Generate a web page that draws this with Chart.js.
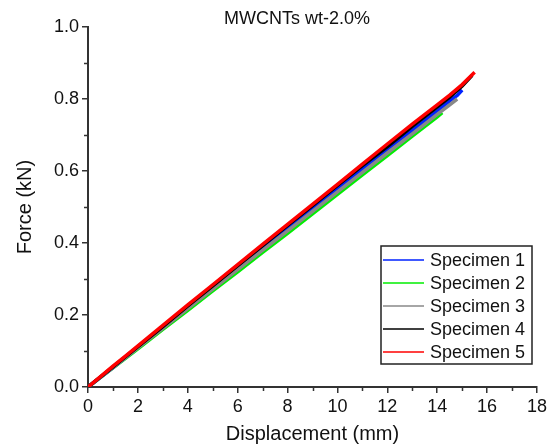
<!DOCTYPE html>
<html>
<head>
<meta charset="utf-8">
<script src="https://cdn.jsdelivr.net/npm/chart.js@4.4.1/dist/chart.umd.min.js"></script>
<style>
html, body { margin: 0; padding: 0; background: #fff; }
</style>
</head>
<body>
<canvas id="myChart" width="547" height="448"></canvas>
<script>
// ── données ──
const chartTitle = 'MWCNTs wt-2.0%';
const labels = ['Specimen 1', 'Specimen 2', 'Specimen 3', 'Specimen 4', 'Specimen 5'];
const colors = ['#0022ff', '#00ee00', '#888888', '#000000', '#ff0000'];

const disp1 = [0, 1, 2, 3, 4, 5, 6, 7, 8, 9, 10, 11, 12, 13, 14, 14.5, 14.8, 15.0];
const force1 = [0, 0.054, 0.110, 0.165, 0.221, 0.276, 0.331, 0.386, 0.441, 0.496, 0.551, 0.605, 0.660, 0.713, 0.767, 0.795, 0.810, 0.825];

const disp2 = [0, 1, 2, 3, 4, 5, 6, 7, 8, 9, 10, 11, 12, 13, 14, 14.2];
const force2 = [0, 0.053, 0.106, 0.160, 0.213, 0.267, 0.320, 0.374, 0.427, 0.481, 0.535, 0.589, 0.643, 0.697, 0.750, 0.762];

const disp3 = [0, 1, 2, 3, 4, 5, 6, 7, 8, 9, 10, 11, 12, 13, 14, 14.5, 14.8];
const force3 = [0, 0.054, 0.109, 0.163, 0.218, 0.272, 0.326, 0.380, 0.434, 0.488, 0.542, 0.596, 0.650, 0.703, 0.757, 0.784, 0.800];

const disp4 = [0, 1, 2, 3, 4, 5, 6, 7, 8, 9, 10, 11, 12, 13, 14, 14.5, 15, 15.4];
const force4 = [0, 0.056, 0.112, 0.168, 0.225, 0.281, 0.337, 0.393, 0.449, 0.504, 0.560, 0.615, 0.668, 0.724, 0.778, 0.805, 0.836, 0.866];

const disp5 = [0, 0.5, 1, 1.5, 2, 3, 4, 5, 6, 7, 8, 9, 10, 11, 12, 13, 14, 14.5, 15, 15.5];
const force5 = [0, 0.029, 0.058, 0.086, 0.114, 0.171, 0.228, 0.284, 0.340, 0.396, 0.452, 0.507, 0.563, 0.619, 0.675, 0.730, 0.784, 0.811, 0.840, 0.874];

const xMajor = [0, 2, 4, 6, 8, 10, 12, 14, 16, 18];
const xMinor = [1, 3, 5, 7, 9, 11, 13, 15, 17];
const yMajor = [0, 0.2, 0.4, 0.6, 0.8, 1.0];
const yMinor = [0.1, 0.3, 0.5, 0.7, 0.9];

const series = [[disp1, force1], [disp2, force2], [disp3, force3], [disp4, force4], [disp5, force5]];
const drawOrder = [4, 5, 3, 2, 1]; // rouge au-dessus

const FONT = 'Arial, "Liberation Sans", sans-serif';
const AXIS = '#333';

// titre, petites graduations et légende encadrée
const decor = {
    id: 'decor',
    afterDraw(chart) {
        const { ctx, chartArea: a, scales: { x, y } } = chart;
        ctx.save();
        // graduations mineures
        ctx.strokeStyle = AXIS; ctx.lineWidth = 1.5;
        ctx.beginPath();
        xMinor.forEach(v => { const px = Math.round(x.getPixelForValue(v)) + 0.5; ctx.moveTo(px, a.bottom); ctx.lineTo(px, a.bottom + 4); });
        yMinor.forEach(v => { const py = Math.round(y.getPixelForValue(v)) + 0.5; ctx.moveTo(a.left, py); ctx.lineTo(a.left - 4, py); });
        ctx.stroke();

        // titre
        ctx.fillStyle = '#111';
        ctx.font = '18px ' + FONT;
        ctx.textAlign = 'center'; ctx.textBaseline = 'middle';
        ctx.fillText(chartTitle, 297, 19);

        // légende
        const bx = a.right - 156, by = a.bottom - 141, bw = 151, bh = 118;
        ctx.lineWidth = 1.5; ctx.strokeStyle = '#222';
        ctx.strokeRect(bx, by, bw, bh);
        ctx.font = '18px ' + FONT;
        ctx.textAlign = 'left';
        labels.forEach((lab, i) => {
            const ry = by + 14 + i * 23;
            ctx.strokeStyle = colors[i]; ctx.lineWidth = 1.5;
            ctx.beginPath(); ctx.moveTo(bx + 2, ry); ctx.lineTo(bx + 43, ry); ctx.stroke();
            ctx.fillStyle = '#111';
            ctx.fillText(lab, bx + 49, ry + 1);
        });
        ctx.restore();
    }
};

const ctx = document.getElementById('myChart').getContext('2d');
const chart = new Chart(ctx, {
    type: 'line',
    data: {
        datasets: series.map(([d, f], i) => ({
            label: labels[i],
            data: d.map((v, k) => ({ x: v, y: f[k] })),
            borderColor: colors[i],
            backgroundColor: colors[i],
            borderWidth: 3.5,
            pointRadius: 0,
            tension: 0,
            order: drawOrder[i]
        }))
    },
    options: {
        responsive: false,
        animation: false,
        layout: { padding: { top: 27, right: 10, left: 0, bottom: 0 } },
        plugins: { legend: { display: false }, tooltip: { enabled: false }, title: { display: false } },
        scales: {
            x: {
                type: 'linear', min: 0, max: 18,
                afterFit: s => { s.height = 61; s.paddingLeft = 0; s.paddingRight = 0; },
                afterBuildTicks: s => { s.ticks = xMajor.map(v => ({ value: v })); },
                border: { color: AXIS, width: 2 },
                grid: { drawOnChartArea: false, drawTicks: true, tickLength: 6, color: AXIS, lineWidth: 1.5 },
                ticks: { color: '#111', font: { family: FONT, size: 18 }, padding: 3, maxRotation: 0 },
                title: { display: true, text: 'Displacement (mm)', color: '#111', font: { family: FONT, size: 20 }, padding: { top: 0, bottom: 2 } }
            },
            y: {
                type: 'linear', min: 0, max: 1.0,
                afterFit: s => { s.width = 88; s.paddingTop = 0; s.paddingBottom = 0; },
                afterBuildTicks: s => { s.ticks = yMajor.map(v => ({ value: v })); },
                border: { color: AXIS, width: 2 },
                grid: { drawOnChartArea: false, drawTicks: true, tickLength: 6, color: AXIS, lineWidth: 1.5 },
                ticks: { color: '#111', font: { family: FONT, size: 18 }, padding: 3, callback: v => v.toFixed(1) },
                title: { display: true, text: 'Force (kN)', color: '#111', font: { family: FONT, size: 20 }, padding: { top: 13, bottom: 0 } }
            }
        }
    },
    plugins: [decor]
});
</script>
</body>
</html>
